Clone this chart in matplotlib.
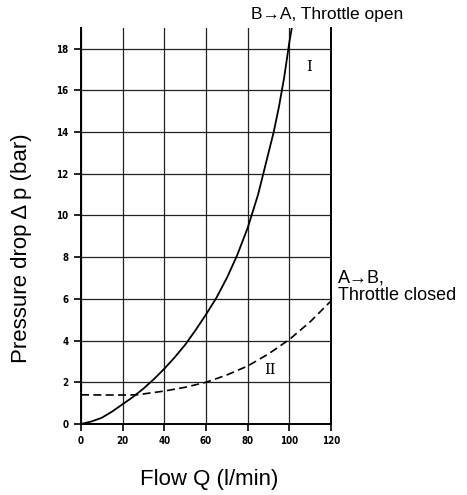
import matplotlib
matplotlib.use("Agg")
import matplotlib.pyplot as plt

# curve I: B->A, throttle open
q_open = [0, 5, 10, 15, 20, 25, 30, 35, 40, 45, 50, 55, 60, 65, 70, 75, 80, 85, 90, 92.5, 95, 97.5, 100, 101.2]
dp_open = [0, 0.12, 0.3, 0.6, 0.95, 1.3, 1.7, 2.15, 2.65, 3.2, 3.8, 4.5, 5.25, 6.05, 7.0, 8.1, 9.4, 11.0, 13.0, 14.0, 15.2, 16.6, 18.3, 19.0]

# curve II: A->B, throttle closed
q_closed = [0, 10, 20, 27, 40, 50, 60, 70, 80, 90, 100, 110, 120]
dp_closed = [1.4, 1.39, 1.39, 1.4, 1.58, 1.76, 2.0, 2.35, 2.78, 3.36, 4.05, 4.9, 5.9]

x_ticks = [0, 20, 40, 60, 80, 100, 120]
y_ticks = [0, 2, 4, 6, 8, 10, 12, 14, 16, 18]

plt.rcParams['font.family'] = ['Liberation Sans', 'DejaVu Sans']

fig = plt.figure(figsize=(4.67, 4.95), dpi=100)
ax = fig.add_axes([81 / 467, 1 - 424 / 495, 250 / 467, (424 - 27.7) / 495])

ax.plot(q_open, dp_open, color='black', lw=1.3, zorder=3)
ax.plot(q_closed, dp_closed, color='black', lw=1.2, dashes=(4.8, 2.6), zorder=3)

ax.set_xlim(0, 120)
ax.set_ylim(0, 19)
ax.set_xticks(x_ticks)
ax.set_yticks(y_ticks)
ax.grid(True, color='#222222', lw=0.9)
ax.set_axisbelow(True)

ax.spines['top'].set_visible(False)
for s in ('left', 'right', 'bottom'):
    ax.spines[s].set_linewidth(1.4)

ax.tick_params(direction='out', length=5, width=1.2, pad=4)
for lab in ax.get_xticklabels() + ax.get_yticklabels():
    lab.set_family('DejaVu Sans')
    lab.set_fontweight('bold')
    lab.set_fontsize(7)
    lab.set_fontstretch('condensed')

# curve markers
ax.text(109.4, 17.1, 'I', family='DejaVu Serif', fontsize=10.5, ha='center', va='center')
ax.text(90.7, 2.6, 'II', family='DejaVu Serif', fontsize=10.5, ha='center', va='center')

fig.text(327 / 467, 1 - 15 / 495, 'B\u2192A, Throttle open', fontsize=12.5, ha='center', va='center')
fig.text(338 / 467, 1 - 287 / 495, 'A\u2192B,\nThrottle closed', fontsize=13,
         ha='left', va='center', linespacing=1.05)

fig.text(209 / 467, 1 - 479 / 495, 'Flow Q (l/min)', fontsize=16, ha='center', va='center')
fig.text(22 / 467, 1 - 248 / 495, 'Pressure drop \u0394 p (bar)', fontsize=16,
         ha='center', va='center', rotation=90)

fig.savefig('out.png', dpi=100)
